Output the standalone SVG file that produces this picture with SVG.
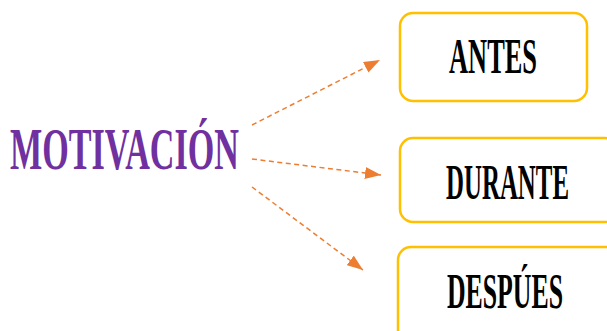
<svg xmlns="http://www.w3.org/2000/svg" width="607" height="331" viewBox="0 0 607 331">
<style>
.box{fill:#fff;stroke:#FFC000;stroke-width:2.5}
.lbl{font-family:"Liberation Serif","DejaVu Serif",serif;font-weight:bold;fill:#000;font-size:50px}
.title{font-family:"Liberation Serif","DejaVu Serif",serif;font-weight:bold;fill:#7030A0;font-size:60px}
.conn{stroke:#ED7D31;stroke-width:1.5;stroke-dasharray:5 3.5;fill:none}
</style>
<defs>
<marker id="ah" viewBox="0 0 16 12" refX="16" refY="6" markerWidth="16" markerHeight="12" markerUnits="userSpaceOnUse" orient="auto">
<path d="M0,0 L16,6 L0,12 Z" fill="#ED7D31"/>
</marker>
</defs>
<rect width="607" height="331" fill="#fff"/>
<g id="connectors">
<line class="conn" x1="252" y1="125" x2="380" y2="60" marker-end="url(#ah)"/>
<line class="conn" x1="252" y1="159" x2="381" y2="175" marker-end="url(#ah)"/>
<line class="conn" x1="252" y1="187" x2="363" y2="270" marker-end="url(#ah)"/>
</g>
<g id="motivacion">
<text class="title" transform="scale(0.56,1)" x="17.86" y="169" textLength="408.9" lengthAdjust="spacingAndGlyphs">MOTIVACIÓN</text>
</g>
<g id="antes">
<rect class="box" x="400" y="13" width="187" height="88" rx="13"/>
<text class="lbl" transform="scale(0.52,1)" x="863.5" y="73" textLength="169.2" lengthAdjust="spacingAndGlyphs">ANTES</text>
</g>
<g id="durante">
<rect class="box" x="400" y="138" width="218" height="84" rx="13"/>
<text class="lbl" transform="scale(0.52,1)" x="857.7" y="199" textLength="236.5" lengthAdjust="spacingAndGlyphs">DURANTE</text>
</g>
<g id="despues">
<rect class="box" x="398" y="247" width="222" height="100" rx="13"/>
<text class="lbl" transform="scale(0.52,1)" x="859.6" y="308" textLength="223.1" lengthAdjust="spacingAndGlyphs">DESPÚES</text>
</g>
</svg>
